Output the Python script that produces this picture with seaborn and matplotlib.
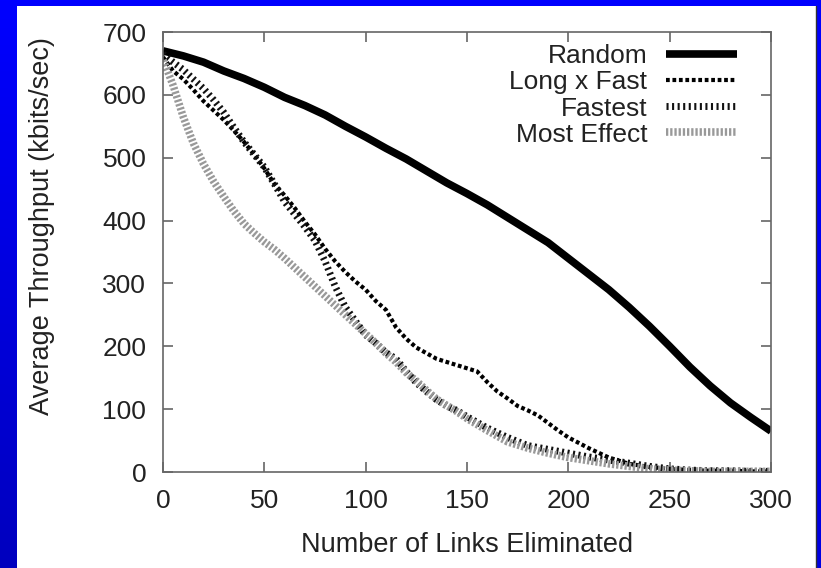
import numpy as np
import matplotlib
matplotlib.use("Agg")
import matplotlib.pyplot as plt
import seaborn as sns
from matplotlib.patches import Rectangle

# ---------------- data ----------------
x_random = [0, 10, 20, 30, 40, 50, 60, 70, 80, 90, 100, 110, 120, 130, 140, 150,
            160, 170, 180, 190, 200, 210, 220, 230, 240, 250, 260, 270, 280, 290, 300]
y_random = [670, 662, 652, 638, 626, 612, 596, 583, 568, 550, 533, 515, 498, 479, 460, 443,
            425, 405, 385, 365, 340, 315, 290, 262, 232, 200, 167, 137, 110, 87, 65]

x_longfast = [0, 5, 10, 15, 20, 25, 30, 35, 40, 45, 50, 55, 60, 65, 70, 75, 80, 85, 90, 95,
              100, 105, 110, 115, 120, 125, 130, 135, 140, 145, 150, 155, 160, 165, 170, 175,
              180, 185, 190, 195, 200, 210, 220, 230, 240, 250, 260, 270, 280, 290, 300]
y_longfast = [660, 638, 625, 608, 590, 575, 560, 543, 525, 505, 483, 458, 440, 420, 398, 378,
              355, 335, 318, 303, 290, 272, 258, 230, 212, 198, 189, 180, 175, 170, 165, 160,
              143, 128, 117, 105, 98, 90, 78, 66, 55, 38, 23, 13, 8, 5, 3, 2, 2, 1, 1]

x_fastest = [0, 5, 10, 15, 20, 25, 30, 35, 40, 45, 50, 55, 60, 65, 70, 75, 80, 85, 90, 95,
             100, 105, 110, 115, 120, 125, 130, 135, 140, 145, 150, 160, 170, 180, 190, 200,
             210, 220, 230, 240, 250, 260, 270, 280, 290, 300]
y_fastest = [665, 652, 640, 625, 610, 592, 572, 548, 525, 505, 485, 458, 430, 410, 390, 368,
             335, 295, 262, 240, 218, 205, 190, 180, 160, 142, 128, 115, 105, 98, 88, 70, 55,
             42, 36, 30, 24, 19, 14, 9, 5, 3, 2, 2, 1, 1]

x_mosteffect = [0, 2, 5, 8, 10, 12, 15, 20, 25, 30, 35, 40, 45, 50, 55, 60, 65, 70, 75, 80,
                85, 90, 95, 100, 105, 110, 115, 120, 125, 130, 135, 140, 145, 150, 160, 170,
                180, 190, 200, 210, 220, 230, 240, 250, 260, 270, 280, 290, 300]
y_mosteffect = [655, 640, 615, 585, 565, 548, 523, 490, 462, 438, 415, 395, 380, 366, 354,
                340, 325, 310, 295, 280, 265, 250, 235, 220, 205, 189, 175, 158, 145, 130, 116,
                106, 96, 85, 66, 48, 38, 30, 23, 18, 13, 9, 5, 3, 2, 1, 1, 1, 1]

series_labels = ["Random", "Long x Fast", "Fastest", "Most Effect"]
x_ticks = [0, 50, 100, 150, 200, 250, 300]
y_ticks = [0, 100, 200, 300, 400, 500, 600, 700]
x_label = "Number of Links Eliminated"
y_label = "Average Throughput (kbits/sec)"

# ---------------- style ----------------
sns.set_style("ticks")
plt.rcParams["font.family"] = ["Liberation Sans", "DejaVu Sans"]

W, H = 821, 568
fig = plt.figure(figsize=(W / 100, H / 100), dpi=100)

# slide background: blue gradient with white panel
bg = fig.add_axes([0, 0, 1, 1], zorder=-10)
gy, gx = np.mgrid[0:1:200j, 0:1:200j]
blue = 255 - gy * (65 - 35 * gx)
img = np.dstack([np.zeros_like(blue), np.zeros_like(blue), blue / 255.0])
bg.imshow(img, extent=[0, W, H, 0], aspect="auto")
bg.add_patch(Rectangle((17, 6), 799, 570, facecolor="white", edgecolor="none"))
bg.plot([816, 816], [6, H], color="#333333", lw=1)
bg.set_xlim(0, W)
bg.set_ylim(H, 0)
bg.axis("off")

ax = fig.add_axes([163 / W, 1 - 472 / H, 608 / W, 440 / H])
ax.set_facecolor("white")

sns.lineplot(x=x_random, y=y_random, ax=ax, color="black", linewidth=5.5,
             label=series_labels[0], solid_capstyle="butt")
sns.lineplot(x=x_longfast, y=y_longfast, ax=ax, color="black", linewidth=3.0,
             linestyle=(0, (0.9, 0.65)), label=series_labels[1])
sns.lineplot(x=x_fastest, y=y_fastest, ax=ax, color="#111111", linewidth=5.0,
             linestyle=(0, (0.3, 0.5)), label=series_labels[2])
sns.lineplot(x=x_mosteffect, y=y_mosteffect, ax=ax, color="#999999", linewidth=5.5,
             linestyle=(0, (0.3, 0.25)), label=series_labels[3])

ax.set_xlim(0, 300)
ax.set_ylim(0, 700)
ax.set_xticks(x_ticks)
ax.set_yticks(y_ticks)

for s in ax.spines.values():
    s.set_visible(True)
    s.set_color("#666666")
    s.set_linewidth(1.2)

ax.tick_params(axis="both", direction="in", length=7, width=1.2, colors="#666666",
               labelcolor="#222222", labelsize=19, top=True, right=True)
ax.tick_params(axis="x", pad=12)
ax.tick_params(axis="y", pad=12)

ax.set_xlabel(x_label, fontsize=19.5, color="#222222", labelpad=14)
ax.set_ylabel(y_label, fontsize=19.5, color="#222222")
ax.yaxis.set_label_coords(-0.178, 0.559)

leg = ax.legend(loc="upper right", bbox_to_anchor=(0.944, 0.972), frameon=False,
                markerfirst=False, handlelength=2.7, handletextpad=0.7,
                labelspacing=0.08, borderaxespad=0, borderpad=0, fontsize=19)
for t in leg.get_texts():
    t.set_color("#222222")

fig.savefig("out.png", dpi=100)
